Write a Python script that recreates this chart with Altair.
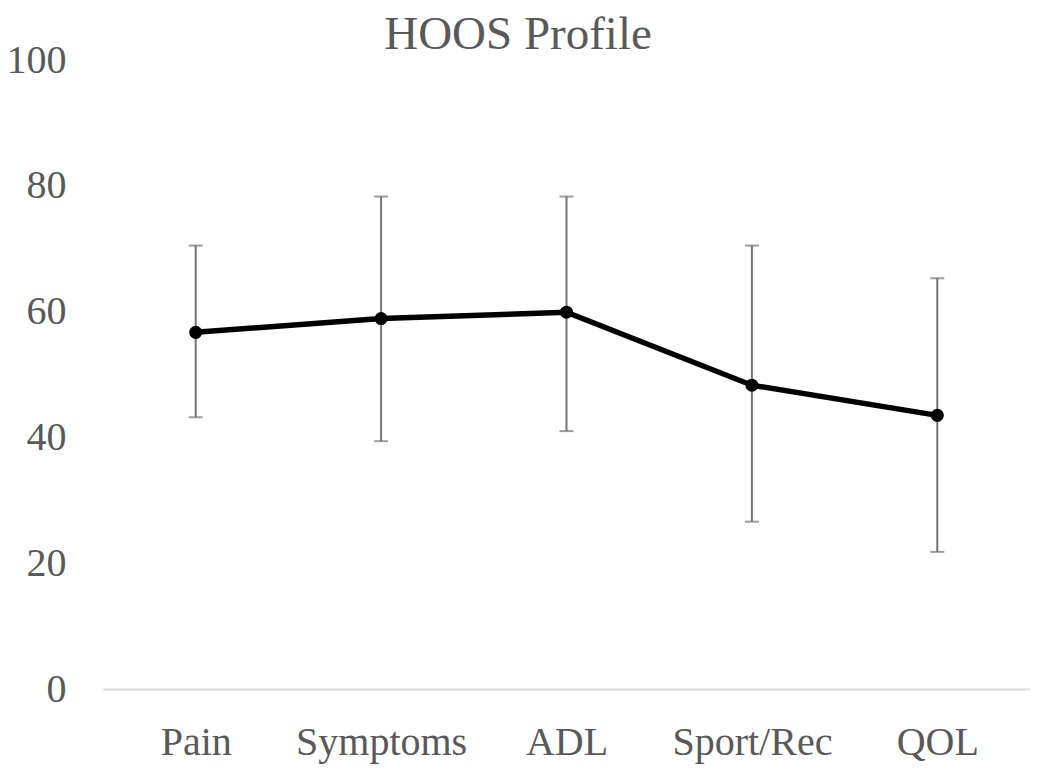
import altair as alt
import pandas as pd

categories = ["Pain", "Symptoms", "ADL", "Sport/Rec", "QOL"]
means = [56.7, 58.9, 59.9, 48.3, 43.5]
upper = [70.5, 78.3, 78.3, 70.5, 65.3]
lower = [43.2, 39.4, 41.0, 26.6, 21.8]

df = pd.DataFrame({"cat": categories, "mean": means, "hi": upper, "lo": lower})

FONT = "Liberation Serif"
TXT = "#595959"

xenc = alt.X("cat:N", sort=categories, scale=alt.Scale(type="point", padding=0.5),
             axis=alt.Axis(title=None, labelAngle=0, labelFont=FONT, labelFontSize=40,
                           labelColor=TXT, ticks=False, domainColor="#d9d9d9",
                           domainWidth=2, labelPadding=33))
yscale = alt.Scale(domain=[0, 100], nice=False)
yaxis = alt.Axis(title=None, values=[0, 20, 40, 60, 80, 100], labelFont=FONT,
                 labelFontSize=40, labelColor=TXT, ticks=False, domain=False,
                 grid=False, labelPadding=37)

base = alt.Chart(df)

err = base.mark_rule(color="#737373", strokeWidth=2).encode(
    x=xenc, y=alt.Y("lo:Q", scale=yscale, axis=yaxis), y2="hi:Q")
cap_hi = base.mark_tick(color="#737373", thickness=2, size=14).encode(
    x=xenc, y=alt.Y("hi:Q", scale=yscale))
cap_lo = base.mark_tick(color="#737373", thickness=2, size=14).encode(
    x=xenc, y=alt.Y("lo:Q", scale=yscale))
line = base.mark_line(color="black", strokeWidth=5.5).encode(
    x=xenc, y=alt.Y("mean:Q", scale=yscale))
pts = base.mark_point(color="black", filled=True, opacity=1, size=170).encode(
    x=xenc, y=alt.Y("mean:Q", scale=yscale))

chart = alt.layer(err, cap_hi, cap_lo, line, pts).properties(
    width=927, height=629,
    title=alt.TitleParams("HOOS Profile", font=FONT, fontSize=47, fontWeight="normal",
                          color=TXT, anchor="middle", frame="bounds",
                          baseline="bottom", offset=0, dy=66),
    autosize=alt.AutoSizeParams(type="none"),
    padding={"left": 95, "top": 52, "right": 0, "bottom": 75},
).configure_view(stroke=None)

chart.save("out.html", embed_options={"renderer": "svg", "actions": False})
